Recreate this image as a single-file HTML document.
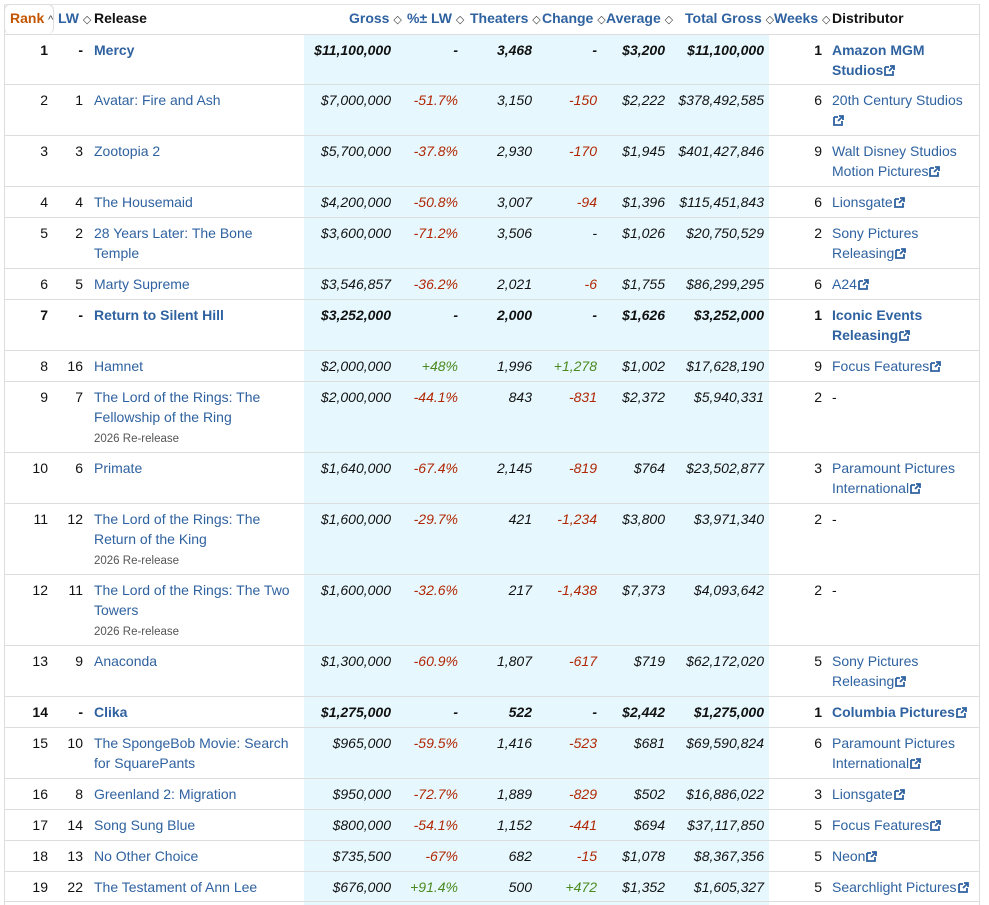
<!DOCTYPE html>
<html><head><meta charset="utf-8"><style>
*{margin:0;padding:0;box-sizing:border-box}
body{width:989px;height:905px;background:#fff;font-family:"Liberation Sans",sans-serif;font-size:14px;color:#111;position:relative;overflow:hidden}
.band{position:absolute;left:304px;width:465px;top:34px;height:871px;background:#e6f8fe}
.vl{position:absolute;top:4px;width:1px;height:901px;background:#ddd}
.r{position:absolute;left:4px;width:975px;border-top:1px solid #ddd}
.c{position:absolute;top:5px;line-height:20px;white-space:nowrap}
.rk{right:931px}.lw{right:896px}.t{left:90px;color:#2f62a0}.g{right:588px;font-style:italic}.p{right:521px;font-style:italic}
.th{right:447px;font-style:italic}.ch{right:382px;font-style:italic}.av{right:314px;font-style:italic}.tg{right:215px;font-style:italic}
.w{right:157px}.d{left:828px;color:#2f62a0}
.red{color:#b12704}.grn{color:#4c8a1f}
.b{font-weight:bold}
.sm{font-size:11.5px;color:#555}
.h{position:absolute;top:9px;line-height:18px;white-space:nowrap;font-weight:bold;color:#2f62a0;font-size:14px}
.ar{font-weight:normal;color:#444;font-size:11px}
svg.e{width:11px;height:11px;vertical-align:-1px;margin-left:1px}
</style></head><body>
<div class="band"></div>
<div class="vl" style="left:4px"></div><div class="vl" style="left:979px"></div>
<div style="position:absolute;left:4px;top:4px;width:975px;border-top:1px solid #e4e4e4"></div>
<div style="position:absolute;left:4px;top:4px;width:50px;height:30px;border:1px solid #ddd;border-radius:6px;border-bottom:none;background:#fff"></div>
<div class="h" style="left:10px;color:#c45500">Rank <span class="ar">^</span></div>
<div class="h" style="left:58px">LW <span class="ar">◇</span></div>
<div class="h" style="left:94px;color:#111">Release</div>
<div class="h" style="left:349px">Gross <span class="ar">◇</span></div>
<div class="h" style="left:407px">%± LW <span class="ar">◇</span></div>
<div class="h" style="left:470px">Theaters <span class="ar">◇</span></div>
<div class="h" style="left:542px">Change <span class="ar">◇</span></div>
<div class="h" style="left:606px">Average <span class="ar">◇</span></div>
<div class="h" style="left:685px">Total Gross <span class="ar">◇</span></div>
<div class="h" style="left:774px">Weeks <span class="ar">◇</span></div>
<div class="h" style="left:832px;color:#111">Distributor</div>

<div class="r b" style="top:34px;height:50px"><div class="c rk">1</div><div class="c lw">-</div><div class="c t">Mercy</div><div class="c g">$11,100,000</div><div class="c p">-</div><div class="c th">3,468</div><div class="c ch">-</div><div class="c av">$3,200</div><div class="c tg">$11,100,000</div><div class="c w">1</div><div class="c d">Amazon MGM<br>Studios<svg class="e" viewBox="0 0 11 11"><path d="M1 2h4M1 2v8h8V6M6 1h4v4M10 1L5 6" stroke="#2f62a0" stroke-width="1.8" fill="none"/></svg></div></div>
<div class="r" style="top:84px;height:51px"><div class="c rk">2</div><div class="c lw">1</div><div class="c t">Avatar: Fire and Ash</div><div class="c g">$7,000,000</div><div class="c p red">-51.7%</div><div class="c th">3,150</div><div class="c ch red">-150</div><div class="c av">$2,222</div><div class="c tg">$378,492,585</div><div class="c w">6</div><div class="c d">20th Century Studios<br><svg class="e" viewBox="0 0 11 11"><path d="M1 2h4M1 2v8h8V6M6 1h4v4M10 1L5 6" stroke="#2f62a0" stroke-width="1.8" fill="none"/></svg></div></div>
<div class="r" style="top:135px;height:51px"><div class="c rk">3</div><div class="c lw">3</div><div class="c t">Zootopia 2</div><div class="c g">$5,700,000</div><div class="c p red">-37.8%</div><div class="c th">2,930</div><div class="c ch red">-170</div><div class="c av">$1,945</div><div class="c tg">$401,427,846</div><div class="c w">9</div><div class="c d">Walt Disney Studios<br>Motion Pictures<svg class="e" viewBox="0 0 11 11"><path d="M1 2h4M1 2v8h8V6M6 1h4v4M10 1L5 6" stroke="#2f62a0" stroke-width="1.8" fill="none"/></svg></div></div>
<div class="r" style="top:186px;height:31px"><div class="c rk">4</div><div class="c lw">4</div><div class="c t">The Housemaid</div><div class="c g">$4,200,000</div><div class="c p red">-50.8%</div><div class="c th">3,007</div><div class="c ch red">-94</div><div class="c av">$1,396</div><div class="c tg">$115,451,843</div><div class="c w">6</div><div class="c d">Lionsgate<svg class="e" viewBox="0 0 11 11"><path d="M1 2h4M1 2v8h8V6M6 1h4v4M10 1L5 6" stroke="#2f62a0" stroke-width="1.8" fill="none"/></svg></div></div>
<div class="r" style="top:217px;height:51px"><div class="c rk">5</div><div class="c lw">2</div><div class="c t">28 Years Later: The Bone<br>Temple</div><div class="c g">$3,600,000</div><div class="c p red">-71.2%</div><div class="c th">3,506</div><div class="c ch">-</div><div class="c av">$1,026</div><div class="c tg">$20,750,529</div><div class="c w">2</div><div class="c d">Sony Pictures<br>Releasing<svg class="e" viewBox="0 0 11 11"><path d="M1 2h4M1 2v8h8V6M6 1h4v4M10 1L5 6" stroke="#2f62a0" stroke-width="1.8" fill="none"/></svg></div></div>
<div class="r" style="top:268px;height:31px"><div class="c rk">6</div><div class="c lw">5</div><div class="c t">Marty Supreme</div><div class="c g">$3,546,857</div><div class="c p red">-36.2%</div><div class="c th">2,021</div><div class="c ch red">-6</div><div class="c av">$1,755</div><div class="c tg">$86,299,295</div><div class="c w">6</div><div class="c d">A24<svg class="e" viewBox="0 0 11 11"><path d="M1 2h4M1 2v8h8V6M6 1h4v4M10 1L5 6" stroke="#2f62a0" stroke-width="1.8" fill="none"/></svg></div></div>
<div class="r b" style="top:299px;height:51px"><div class="c rk">7</div><div class="c lw">-</div><div class="c t">Return to Silent Hill</div><div class="c g">$3,252,000</div><div class="c p">-</div><div class="c th">2,000</div><div class="c ch">-</div><div class="c av">$1,626</div><div class="c tg">$3,252,000</div><div class="c w">1</div><div class="c d">Iconic Events<br>Releasing<svg class="e" viewBox="0 0 11 11"><path d="M1 2h4M1 2v8h8V6M6 1h4v4M10 1L5 6" stroke="#2f62a0" stroke-width="1.8" fill="none"/></svg></div></div>
<div class="r" style="top:350px;height:31px"><div class="c rk">8</div><div class="c lw">16</div><div class="c t">Hamnet</div><div class="c g">$2,000,000</div><div class="c p grn">+48%</div><div class="c th">1,996</div><div class="c ch grn">+1,278</div><div class="c av">$1,002</div><div class="c tg">$17,628,190</div><div class="c w">9</div><div class="c d">Focus Features<svg class="e" viewBox="0 0 11 11"><path d="M1 2h4M1 2v8h8V6M6 1h4v4M10 1L5 6" stroke="#2f62a0" stroke-width="1.8" fill="none"/></svg></div></div>
<div class="r" style="top:381px;height:71px"><div class="c rk">9</div><div class="c lw">7</div><div class="c t">The Lord of the Rings: The<br>Fellowship of the Ring<br><span class="sm">2026 Re-release</span></div><div class="c g">$2,000,000</div><div class="c p red">-44.1%</div><div class="c th">843</div><div class="c ch red">-831</div><div class="c av">$2,372</div><div class="c tg">$5,940,331</div><div class="c w">2</div><div class="c d" style="color:#111">-</div></div>
<div class="r" style="top:452px;height:51px"><div class="c rk">10</div><div class="c lw">6</div><div class="c t">Primate</div><div class="c g">$1,640,000</div><div class="c p red">-67.4%</div><div class="c th">2,145</div><div class="c ch red">-819</div><div class="c av">$764</div><div class="c tg">$23,502,877</div><div class="c w">3</div><div class="c d">Paramount Pictures<br>International<svg class="e" viewBox="0 0 11 11"><path d="M1 2h4M1 2v8h8V6M6 1h4v4M10 1L5 6" stroke="#2f62a0" stroke-width="1.8" fill="none"/></svg></div></div>
<div class="r" style="top:503px;height:71px"><div class="c rk">11</div><div class="c lw">12</div><div class="c t">The Lord of the Rings: The<br>Return of the King<br><span class="sm">2026 Re-release</span></div><div class="c g">$1,600,000</div><div class="c p red">-29.7%</div><div class="c th">421</div><div class="c ch red">-1,234</div><div class="c av">$3,800</div><div class="c tg">$3,971,340</div><div class="c w">2</div><div class="c d" style="color:#111">-</div></div>
<div class="r" style="top:574px;height:71px"><div class="c rk">12</div><div class="c lw">11</div><div class="c t">The Lord of the Rings: The Two<br>Towers<br><span class="sm">2026 Re-release</span></div><div class="c g">$1,600,000</div><div class="c p red">-32.6%</div><div class="c th">217</div><div class="c ch red">-1,438</div><div class="c av">$7,373</div><div class="c tg">$4,093,642</div><div class="c w">2</div><div class="c d" style="color:#111">-</div></div>
<div class="r" style="top:645px;height:51px"><div class="c rk">13</div><div class="c lw">9</div><div class="c t">Anaconda</div><div class="c g">$1,300,000</div><div class="c p red">-60.9%</div><div class="c th">1,807</div><div class="c ch red">-617</div><div class="c av">$719</div><div class="c tg">$62,172,020</div><div class="c w">5</div><div class="c d">Sony Pictures<br>Releasing<svg class="e" viewBox="0 0 11 11"><path d="M1 2h4M1 2v8h8V6M6 1h4v4M10 1L5 6" stroke="#2f62a0" stroke-width="1.8" fill="none"/></svg></div></div>
<div class="r b" style="top:696px;height:31px"><div class="c rk">14</div><div class="c lw">-</div><div class="c t">Clika</div><div class="c g">$1,275,000</div><div class="c p">-</div><div class="c th">522</div><div class="c ch">-</div><div class="c av">$2,442</div><div class="c tg">$1,275,000</div><div class="c w">1</div><div class="c d">Columbia Pictures<svg class="e" viewBox="0 0 11 11"><path d="M1 2h4M1 2v8h8V6M6 1h4v4M10 1L5 6" stroke="#2f62a0" stroke-width="1.8" fill="none"/></svg></div></div>
<div class="r" style="top:727px;height:51px"><div class="c rk">15</div><div class="c lw">10</div><div class="c t">The SpongeBob Movie: Search<br>for SquarePants</div><div class="c g">$965,000</div><div class="c p red">-59.5%</div><div class="c th">1,416</div><div class="c ch red">-523</div><div class="c av">$681</div><div class="c tg">$69,590,824</div><div class="c w">6</div><div class="c d">Paramount Pictures<br>International<svg class="e" viewBox="0 0 11 11"><path d="M1 2h4M1 2v8h8V6M6 1h4v4M10 1L5 6" stroke="#2f62a0" stroke-width="1.8" fill="none"/></svg></div></div>
<div class="r" style="top:778px;height:31px"><div class="c rk">16</div><div class="c lw">8</div><div class="c t">Greenland 2: Migration</div><div class="c g">$950,000</div><div class="c p red">-72.7%</div><div class="c th">1,889</div><div class="c ch red">-829</div><div class="c av">$502</div><div class="c tg">$16,886,022</div><div class="c w">3</div><div class="c d">Lionsgate<svg class="e" viewBox="0 0 11 11"><path d="M1 2h4M1 2v8h8V6M6 1h4v4M10 1L5 6" stroke="#2f62a0" stroke-width="1.8" fill="none"/></svg></div></div>
<div class="r" style="top:809px;height:31px"><div class="c rk">17</div><div class="c lw">14</div><div class="c t">Song Sung Blue</div><div class="c g">$800,000</div><div class="c p red">-54.1%</div><div class="c th">1,152</div><div class="c ch red">-441</div><div class="c av">$694</div><div class="c tg">$37,117,850</div><div class="c w">5</div><div class="c d">Focus Features<svg class="e" viewBox="0 0 11 11"><path d="M1 2h4M1 2v8h8V6M6 1h4v4M10 1L5 6" stroke="#2f62a0" stroke-width="1.8" fill="none"/></svg></div></div>
<div class="r" style="top:840px;height:31px"><div class="c rk">18</div><div class="c lw">13</div><div class="c t">No Other Choice</div><div class="c g">$735,500</div><div class="c p red">-67%</div><div class="c th">682</div><div class="c ch red">-15</div><div class="c av">$1,078</div><div class="c tg">$8,367,356</div><div class="c w">5</div><div class="c d">Neon<svg class="e" viewBox="0 0 11 11"><path d="M1 2h4M1 2v8h8V6M6 1h4v4M10 1L5 6" stroke="#2f62a0" stroke-width="1.8" fill="none"/></svg></div></div>
<div class="r" style="top:871px;height:31px;border-bottom:1px solid #ddd"><div class="c rk">19</div><div class="c lw">22</div><div class="c t">The Testament of Ann Lee</div><div class="c g">$676,000</div><div class="c p grn">+91.4%</div><div class="c th">500</div><div class="c ch grn">+472</div><div class="c av">$1,352</div><div class="c tg">$1,605,327</div><div class="c w">5</div><div class="c d">Searchlight Pictures<svg class="e" viewBox="0 0 11 11"><path d="M1 2h4M1 2v8h8V6M6 1h4v4M10 1L5 6" stroke="#2f62a0" stroke-width="1.8" fill="none"/></svg></div></div>
</body></html>
